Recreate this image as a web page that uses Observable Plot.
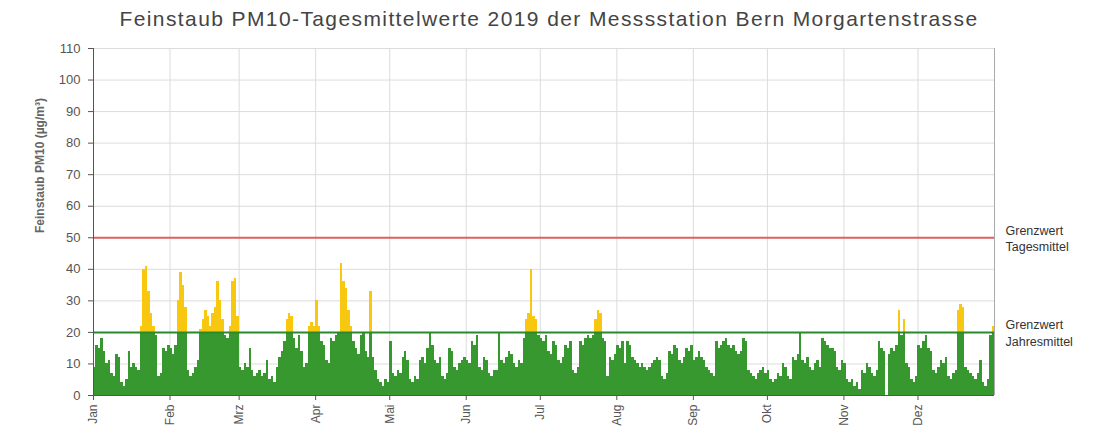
<!DOCTYPE html>
<html><head><meta charset="utf-8">
<script src="https://cdn.jsdelivr.net/npm/d3@7"></script>
<script src="https://cdn.jsdelivr.net/npm/@observablehq/plot@0.6"></script>
<style>
body{margin:0;background:#fff;font-family:"Liberation Sans",Arial,sans-serif;}
#title{height:38px;line-height:38px;text-align:center;font-size:21px;letter-spacing:1.4px;color:#444;white-space:nowrap;}
#chart svg{display:block;}
</style></head><body>
<div id="title">Feinstaub PM10-Tagesmittelwerte 2019 der Messsstation Bern Morgartenstrasse</div>
<div id="chart"></div>
<script>
// Daily PM10 means 2019 (µg/m³), one array per month
const jan = [9,16,15,18,14,10,11,7,6,13,12,4,3,5,14,9,10,9,8,22,40,41,33,26,22,19,6,7,15,14,16];
const feb = [15,13,16,30,39,35,28,8,6,7,9,11,21,24,27,25,22,26,28,36,30,24,19,18,22,36,37,25];
const mar = [9,8,10,9,15,8,6,7,8,6,7,11,5,6,4,9,12,14,17,24,26,25,18,15,19,14,9,10,22,23,22];
const apr = [30,22,17,16,11,10,18,17,19,20,42,36,34,27,22,17,15,13,19,20,14,12,33,12,8,5,4,3,5,4];
const mai = [17,7,6,8,7,12,14,11,5,4,6,5,11,12,10,15,20,16,11,10,12,6,5,7,15,14,9,8,10,11,12];
const jun = [11,10,17,16,19,9,8,12,11,7,6,8,8,20,11,10,12,14,13,10,9,11,10,18,24,26,40,25,24,19];
const jul = [18,17,19,14,13,17,16,11,10,12,16,15,17,8,7,9,17,16,18,19,18,19,24,27,26,18,17,6,12,11,13];
const aug = [16,15,17,10,17,16,12,11,10,9,10,9,8,9,10,11,12,11,6,5,7,14,13,16,15,11,10,12,15,14,16];
const sep = [11,12,14,12,11,9,8,7,6,17,15,16,17,18,16,15,16,14,13,14,18,17,8,7,6,5,7,8,9,7];
const okt = [8,5,4,5,7,6,10,9,6,5,12,11,13,20,11,10,12,9,8,10,11,9,18,17,16,15,15,14,9,8,11];
const nov = [10,5,4,5,3,4,2,8,7,10,9,7,6,8,17,15,14,null,13,15,14,16,27,19,24,10,9,5,4,6];
const dez = [16,15,17,19,15,14,8,7,9,11,10,12,6,5,7,8,27,29,28,9,8,7,6,5,7,11,4,3,5,19,22];

const monthLabels = ["Jan","Feb","Mrz","Apr","Mai","Jun","Jul","Aug","Sep","Okt","Nov","Dez"];
const yTicks = [0,10,20,30,40,50,60,70,80,90,100,110];
const limitDay = 50;   // Grenzwert Tagesmittel
const limitYear = 20;  // Grenzwert Jahresmittel
const yLabel = "Feinstaub PM10 (µg/m³)";

const values = [...jan,...feb,...mar,...apr,...mai,...jun,...jul,...aug,...sep,...okt,...nov,...dez];
const start = new Date(Date.UTC(2019,0,1));
const end = new Date(Date.UTC(2020,0,1));
const data = values.map((v,i)=>({
  date: new Date(Date.UTC(2019,0,1+i)),
  next: new Date(Date.UTC(2019,0,2+i)),
  v
})).filter(d=>d.v!=null);
const monthStarts = d3.utcMonths(start, end);

const green = "#36982e", yellow = "#f8c810", red = "#e06060", lineGreen = "#2a8a2a";

const chart = Plot.plot({
  width: 1098, height: 392,
  marginTop: 10, marginBottom: 35, marginLeft: 93, marginRight: 104,
  style: {fontFamily: "'Liberation Sans', Arial, sans-serif", background: "#fff"},
  x: {type: "utc", domain: [start, end]},
  y: {domain: [0,110]},
  marks: [
    Plot.gridY(yTicks, {stroke: "#dcdcdc", strokeOpacity: 1}),
    Plot.gridX(monthStarts, {stroke: "#dcdcdc", strokeOpacity: 1}),
    Plot.ruleX([end], {stroke: "#aaaaaa"}),
    Plot.rectY(data, {x1: "date", x2: "next", y1: 0, y2: d=>Math.min(d.v, limitYear), fill: green, inset: 0, shapeRendering: "crispEdges"}),
    Plot.rectY(data.filter(d=>d.v>limitYear), {x1: "date", x2: "next", y1: limitYear, y2: "v", fill: yellow, inset: 0, shapeRendering: "crispEdges"}),
    Plot.ruleY([limitDay], {stroke: red, strokeWidth: 2}),
    Plot.ruleY([limitYear], {stroke: lineGreen, strokeWidth: 2}),
    Plot.ruleY([0], {stroke: "#555"}),
    Plot.ruleX([start], {stroke: "#555"}),
    Plot.axisY({ticks: yTicks, tickSize: 5, tickPadding: 8, fontSize: 13, fill: "#555", stroke: "#555", label: null}),
    Plot.axisX({ticks: monthStarts, tickFormat: (d)=>monthLabels[d.getUTCMonth()], tickRotate: -90, tickSize: 5, tickPadding: 4, fontSize: 12, fill: "#555", stroke: "#555", label: null}),
    Plot.text([yLabel], {frameAnchor: "left", dx: -53, dy: 11, rotate: -90, fontSize: 12, fontWeight: "bold", fill: "#666"}),
    Plot.text(["Grenzwert\nTagesmittel"], {x: end, y: limitDay, dx: 11, textAnchor: "start", lineAnchor: "middle", lineHeight: 1.3, fontSize: 12.5, fill: "#333"}),
    Plot.text(["Grenzwert\nJahresmittel"], {x: end, y: limitYear, dx: 11, textAnchor: "start", lineAnchor: "middle", lineHeight: 1.3, fontSize: 12.5, fill: "#333"})
  ]
});
document.getElementById("chart").appendChild(chart);
</script>
</body></html>
